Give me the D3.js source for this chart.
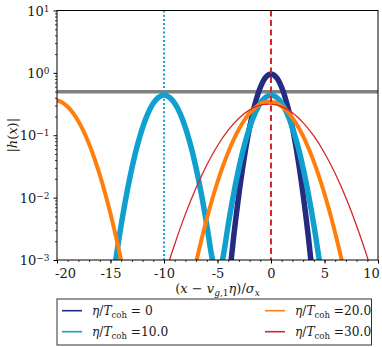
<!DOCTYPE html>
<html><head><meta charset="utf-8">
<script src="https://cdn.jsdelivr.net/npm/d3@7"></script>
<style>
body{margin:0;background:#fff;}
</style></head>
<body><svg id="c" width="382" height="347"></svg>
<script>
// ---- data ----
const xTickValues = [-20,-15,-10,-5,0,5,10];
const yTickExps = [-3,-2,-1,0,1];
const seriesLabels = ["0","10.0","20.0","30.0"];
const seriesColors = ["#262a80","#0fa0d0","#ff7f0e","#d62728"];

const eta0X = [-4.5,-4,-3.5,-3,-2.5,-2,-1.5,-1,-0.5,0,0.5,1,1.5,2,2.5,3,3.5,4,4.5];
const eta0Y = [4.4e-5,3.6e-4,0.00228,0.0113,0.0439,0.133,0.315,0.583,0.844,0.955,0.844,0.583,0.315,0.133,0.0439,0.0113,0.00228,3.6e-4,4.4e-5];

const eta10X = [-15.5,-15,-14.5,-14,-13.5,-13,-12.5,-12,-11.5,-11,-10.5,-10,-9.5,-9,-8.5,-8,-7.5,-7,-6.5,-6,-5.5,-5,-4.5,-4,-3.5,-3,-2.5,-2,-1.5,-1,-0.5,0,0.5,1,1.5,2,2.5,3,3.5,4,4.5,5,5.5];
const eta10Y = [5.1e-5,2.47e-4,0.00102,0.00366,0.0112,0.0297,0.0677,0.133,0.224,0.326,0.408,0.44,0.408,0.326,0.224,0.133,0.0677,0.0297,0.0112,0.00366,0.00107,4.9e-4,0.00107,0.00366,0.0112,0.0297,0.0677,0.133,0.224,0.326,0.408,0.44,0.408,0.326,0.224,0.133,0.0677,0.0297,0.0112,0.00366,0.00102,2.47e-4,5.1e-5];

const eta20LeftX = [-21,-20.5,-20,-19.5,-19,-18.5,-18,-17.5,-17,-16.5,-16,-15.5,-15,-14.5,-14,-13.5,-13];
const eta20LeftY = [0.342,0.366,0.363,0.3345,0.286,0.227,0.167,0.114,0.0721,0.0424,0.0231,0.0117,0.0055,0.0024,9.7e-4,3.6e-4,1.27e-4];
const eta20X = [-8,-7.5,-7,-6.5,-6,-5.5,-5,-4.5,-4,-3.5,-3,-2.5,-2,-1.5,-1,-0.5,0,0.5,1,1.5,2,2.5,3,3.5,4,4.5,5,5.5,6,6.5,7,7.5];
const eta20Y = [1.41e-4,3.71e-4,9.12e-4,0.00211,0.00457,0.00931,0.0178,0.0318,0.0536,0.0845,0.125,0.174,0.226,0.277,0.318,0.342,0.345,0.327,0.291,0.243,0.19,0.14,0.0964,0.0624,0.0378,0.0216,0.0115,0.00578,0.00272,0.0012,4.98e-4,1.94e-4];

const eta30X = [-11,-10,-9,-8,-7,-6,-5,-4,-3,-2,-1,0,1,2,3,4,5,6,7,8,9,10,11];
const eta30Y = [1.31e-4,5.19e-4,0.00179,0.00544,0.0144,0.0334,0.0679,0.1205,0.1875,0.2547,0.303,0.3155,0.2872,0.229,0.1596,0.0973,0.052,0.0243,0.00993,0.00355,0.00111,3.04e-4,7.5e-5];

const thresholdValue = 0.5;
const markerLinesX = [-10, 0];

// ---- layout ----
const FONT = "DejaVu Serif";
const TXT = "#1a1a1a";
const L = 57, R = 378, T = 10.5, B = 260;
const svg = d3.select("#c");
const x = d3.scaleLinear().domain([-20,10]).range([L,R]);
const y = d3.scaleLog().domain([1e-3,1e1]).range([B,T]);

svg.append("defs").append("clipPath").attr("id","pc")
  .append("rect").attr("x",L).attr("y",T).attr("width",R-L).attr("height",B-T);

const plot = svg.append("g").attr("clip-path","url(#pc)");
const line = d3.line().x(d=>x(d[0])).y(d=>y(d[1])).curve(d3.curveCatmullRom.alpha(0.5));
const zip = (a,b)=>a.map((v,i)=>[v,b[i]]);

plot.append("line").attr("x1",L).attr("x2",R)
  .attr("y1",y(thresholdValue)).attr("y2",y(thresholdValue))
  .attr("stroke","#808080").attr("stroke-width",3.5);

const curves = [
  {d:zip(eta30X,eta30Y), c:seriesColors[3], w:1.3},
  {d:zip(eta20LeftX,eta20LeftY), c:seriesColors[2], w:4},
  {d:zip(eta20X,eta20Y), c:seriesColors[2], w:4},
  {d:zip(eta10X,eta10Y), c:seriesColors[1], w:5.5},
  {d:zip(eta0X,eta0Y), c:seriesColors[0], w:5.5},
];
const order = [4,3,1,2,0];
order.forEach(i=>{
  const s = curves[i];
  plot.append("path").attr("d",line(s.d)).attr("fill","none")
    .attr("stroke",s.c).attr("stroke-width",s.w).attr("stroke-linejoin","round");
});

plot.append("line").attr("x1",x(markerLinesX[0])).attr("x2",x(markerLinesX[0]))
  .attr("y1",T).attr("y2",B).attr("stroke","#1aa3d6").attr("stroke-width",2)
  .attr("stroke-dasharray","2,2.2");
plot.append("line").attr("x1",x(markerLinesX[1])).attr("x2",x(markerLinesX[1]))
  .attr("y1",T).attr("y2",B).attr("stroke","#d62728").attr("stroke-width",2)
  .attr("stroke-dasharray","6,3.5");

svg.append("rect").attr("x",L).attr("y",T).attr("width",R-L).attr("height",B-T)
  .attr("fill","none").attr("stroke","#000").attr("stroke-width",1);

// x axis
const xMinor = d3.range(-20,11,1);
const gxm = svg.append("g").attr("transform",`translate(0,${B})`)
  .call(d3.axisBottom(x).tickValues(xMinor).tickSize(2).tickFormat(""));
gxm.select(".domain").remove();
gxm.selectAll("line").attr("stroke","#000").attr("stroke-width",0.8);
const gx = svg.append("g").attr("transform",`translate(0,${B})`)
  .call(d3.axisBottom(x).tickValues(xTickValues).tickSize(3.5).tickPadding(5).tickFormat(d=>String(d)));
gx.attr("font-family",FONT);
gx.select(".domain").remove();
gx.selectAll("line").attr("stroke","#000").attr("stroke-width",1);
gx.selectAll("text").attr("font-size",13).attr("fill",TXT)
  .style("font-family",FONT)
  .attr("dx",d=> d===-20 ? 8 : (d===10 ? -7 : 0));

// y axis
const yMinor = [];
for(let e=-3;e<1;e++) for(let m=2;m<10;m++) yMinor.push(m*Math.pow(10,e));
const gym = svg.append("g").attr("transform",`translate(${L},0)`)
  .call(d3.axisLeft(y).tickValues(yMinor).tickSize(2).tickFormat(""));
gym.select(".domain").remove();
gym.selectAll("line").attr("stroke","#000").attr("stroke-width",0.8);
const gy = svg.append("g").attr("transform",`translate(${L},0)`)
  .call(d3.axisLeft(y).tickValues(yTickExps.map(e=>Math.pow(10,e))).tickSize(3.5).tickPadding(4).tickFormat(""));
gy.attr("font-family",FONT);
gy.select(".domain").remove();
gy.selectAll("line").attr("stroke","#000").attr("stroke-width",1);
gy.selectAll(".tick").each(function(d){
  const e = Math.round(Math.log10(d));
  const t = d3.select(this).select("text")
    .attr("font-size",13).attr("fill",TXT).attr("dy","0.35em").attr("x",-7.5)
    .style("font-family",FONT);
  t.append("tspan").text("10");
  t.append("tspan").attr("dy","-0.45em").attr("font-size",9)
    .text(e<0 ? "\u2212"+Math.abs(e) : String(e));
});

// axis labels
const xl = svg.append("text").attr("x",(L+R)/2).attr("y",293).attr("text-anchor","middle")
  .attr("font-size",13).attr("fill",TXT).style("font-family",FONT);
xl.append("tspan").text("(");
xl.append("tspan").attr("font-style","italic").text("x");
xl.append("tspan").text(" \u2212 ");
xl.append("tspan").attr("font-style","italic").text("v");
xl.append("tspan").attr("font-size",9).attr("dy","3").attr("font-style","italic").text("g");
xl.append("tspan").attr("font-size",9).text(",1");
xl.append("tspan").attr("dy","-3").attr("font-style","italic").text("\u03b7");
xl.append("tspan").text(")/");
xl.append("tspan").attr("font-style","italic").text("\u03c3");
xl.append("tspan").attr("font-size",9).attr("dy","3").attr("font-style","italic").text("x");

const yl = svg.append("text").attr("transform",`translate(17,${(T+B)/2}) rotate(-90)`)
  .attr("text-anchor","middle").attr("font-size",13).attr("fill",TXT).style("font-family",FONT);
yl.append("tspan").text("|");
yl.append("tspan").attr("font-style","italic").text("h");
yl.append("tspan").text("(");
yl.append("tspan").attr("font-style","italic").text("x");
yl.append("tspan").text(")|");

// legend
svg.append("rect").attr("x",57).attr("y",299).attr("width",314.5).attr("height",46)
  .attr("fill","#fff").attr("stroke","#333").attr("stroke-width",1);
const legPos = [[62,310.7],[62,331.7],[265,310.7],[265,331.7]];
seriesLabels.forEach((lab,i)=>{
  const [lx,ly] = legPos[i];
  svg.append("line").attr("x1",lx).attr("x2",lx+20).attr("y1",ly).attr("y2",ly)
    .attr("stroke",seriesColors[i]).attr("stroke-width",1.6);
  const t = svg.append("text").attr("x",lx+30).attr("y",ly+4.5)
    .attr("font-size",12.2).attr("fill",TXT).style("font-family",FONT);
  t.append("tspan").attr("font-style","italic").text("\u03b7");
  t.append("tspan").text("/");
  t.append("tspan").attr("font-style","italic").text("T");
  t.append("tspan").attr("font-size",8.5).attr("dy","3").text("coh");
  t.append("tspan").attr("dy","-3").text(i===0 ? " = "+lab : " ="+lab);
});
</script></body></html>
